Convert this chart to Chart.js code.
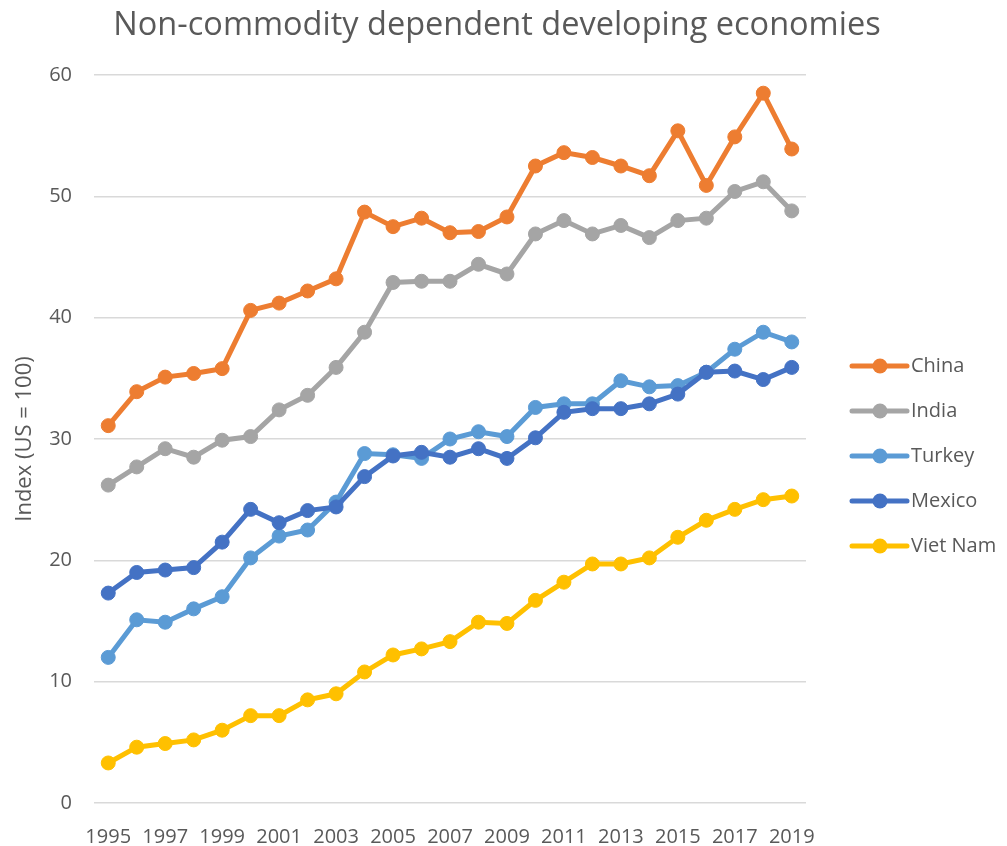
<!DOCTYPE html>
<html>
<head>
<meta charset="utf-8">
<script src="https://cdn.jsdelivr.net/npm/chart.js@4/dist/chart.umd.min.js"></script>
<style>
  html, body { margin: 0; padding: 0; background: #ffffff; }
  #wrap { width: 1007px; height: 846px; position: relative; }
</style>
</head>
<body>
<div id="wrap"><canvas id="chart" width="1007" height="846"></canvas></div>
<script>
// Productivity index relative to the US (US = 100)
const years = ['1995','1996','1997','1998','1999','2000','2001','2002','2003','2004','2005','2006','2007',
               '2008','2009','2010','2011','2012','2013','2014','2015','2016','2017','2018','2019'];
const china   = [31.1, 33.9, 35.1, 35.4, 35.8, 40.6, 41.2, 42.2, 43.2, 48.7, 47.5, 48.2, 47.0,
                 47.1, 48.3, 52.5, 53.6, 53.2, 52.5, 51.7, 55.4, 50.9, 54.9, 58.5, 53.9];
const india   = [26.2, 27.7, 29.2, 28.5, 29.9, 30.2, 32.4, 33.6, 35.9, 38.8, 42.9, 43.0, 43.0,
                 44.4, 43.6, 46.9, 48.0, 46.9, 47.6, 46.6, 48.0, 48.2, 50.4, 51.2, 48.8];
const turkey  = [12.0, 15.1, 14.9, 16.0, 17.0, 20.2, 22.0, 22.5, 24.8, 28.8, 28.7, 28.4, 30.0,
                 30.6, 30.2, 32.6, 32.9, 32.9, 34.8, 34.3, 34.4, 35.5, 37.4, 38.8, 38.0];
const mexico  = [17.3, 19.0, 19.2, 19.4, 21.5, 24.2, 23.1, 24.1, 24.4, 26.9, 28.6, 28.9, 28.5,
                 29.2, 28.4, 30.1, 32.2, 32.5, 32.5, 32.9, 33.7, 35.5, 35.6, 34.9, 35.9];
const vietNam = [3.3, 4.6, 4.9, 5.2, 6.0, 7.2, 7.2, 8.5, 9.0, 10.8, 12.2, 12.7, 13.3,
                 14.9, 14.8, 16.7, 18.2, 19.7, 19.7, 20.2, 21.9, 23.3, 24.2, 25.0, 25.3];

const seriesNames = ['China', 'India', 'Turkey', 'Mexico', 'Viet Nam'];
const seriesData  = [china, india, turkey, mexico, vietNam];
const seriesColors = ['#ED7D31', '#A5A5A5', '#5B9BD5', '#4472C4', '#FFC000'];

const chartTitle = 'Non-commodity dependent developing economies';
const yAxisTitle = 'Index (US = 100)';

const FONT = "'Open Sans', 'DejaVu Sans', sans-serif";
const TEXT_COLOR = '#595959';

const datasets = seriesNames.map((name, i) => ({
  label: name,
  data: seriesData[i],
  borderColor: seriesColors[i],
  backgroundColor: seriesColors[i],
  pointBackgroundColor: seriesColors[i],
  pointBorderColor: seriesColors[i],
  borderWidth: 5,
  pointRadius: 7,
  pointBorderWidth: 1,
  tension: 0,
  fill: false,
  // later series sit on top of earlier ones
  order: seriesNames.length - i
}));

// Title text drawn above the plot
const titlePlugin = {
  id: 'topTitle',
  afterDraw(chart) {
    const ctx = chart.ctx;
    ctx.save();
    ctx.font = `32.5px ${FONT}`;
    ctx.fillStyle = TEXT_COLOR;
    ctx.textAlign = 'center';
    ctx.textBaseline = 'alphabetic';
    ctx.fillText(chartTitle, 497, 35);
    ctx.restore();
  }
};

// Legend on the right: a short line with a marker, then the series name
const sideLegend = {
  id: 'sideLegend',
  afterDraw(chart) {
    const ctx = chart.ctx;
    const x0 = 852, x1 = 907, cx = 880, tx = 911;
    const yStart = 366, step = 45;
    ctx.save();
    ctx.font = `20px ${FONT}`;
    ctx.textBaseline = 'middle';
    ctx.textAlign = 'left';
    chart.data.datasets.forEach((ds, i) => {
      const y = yStart + i * step;
      ctx.strokeStyle = ds.borderColor;
      ctx.lineWidth = 5;
      ctx.lineCap = 'round';
      ctx.beginPath();
      ctx.moveTo(x0, y);
      ctx.lineTo(x1, y);
      ctx.stroke();
      ctx.fillStyle = ds.borderColor;
      ctx.beginPath();
      ctx.arc(cx, y, 7.5, 0, Math.PI * 2);
      ctx.fill();
      ctx.fillStyle = TEXT_COLOR;
      ctx.fillText(ds.label, tx, y);
    });
    ctx.restore();
  }
};

new Chart(document.getElementById('chart'), {
  type: 'line',
  data: { labels: years, datasets },
  options: {
    responsive: false,
    animation: false,
    layout: { padding: { top: 75, right: 201, bottom: 0, left: 0 } },
    plugins: {
      legend: { display: false },
      title: { display: false },
      tooltip: { enabled: false }
    },
    scales: {
      x: {
        offset: true,
        grid: { display: false, drawTicks: false },
        border: { display: false },
        ticks: {
          autoSkip: false,
          maxRotation: 0,
          minRotation: 0,
          padding: 22,
          color: TEXT_COLOR,
          font: { family: FONT, size: 20 },
          callback: (v, i) => (i % 2 === 0 ? years[i] : '')
        },
        afterFit(scale) { scale.height = 43; }
      },
      y: {
        min: 0,
        max: 60,
        ticks: {
          stepSize: 10,
          padding: 22,
          color: TEXT_COLOR,
          font: { family: FONT, size: 20 }
        },
        grid: { color: '#D9D9D9', lineWidth: 1.5, drawTicks: false },
        border: { display: false },
        title: {
          display: true,
          text: yAxisTitle,
          color: TEXT_COLOR,
          font: { family: FONT, size: 22 },
          padding: { top: 12, bottom: 0 }
        },
        afterFit(scale) { scale.width = 94; }
      }
    }
  },
  plugins: [titlePlugin, sideLegend]
});
</script>
</body>
</html>
